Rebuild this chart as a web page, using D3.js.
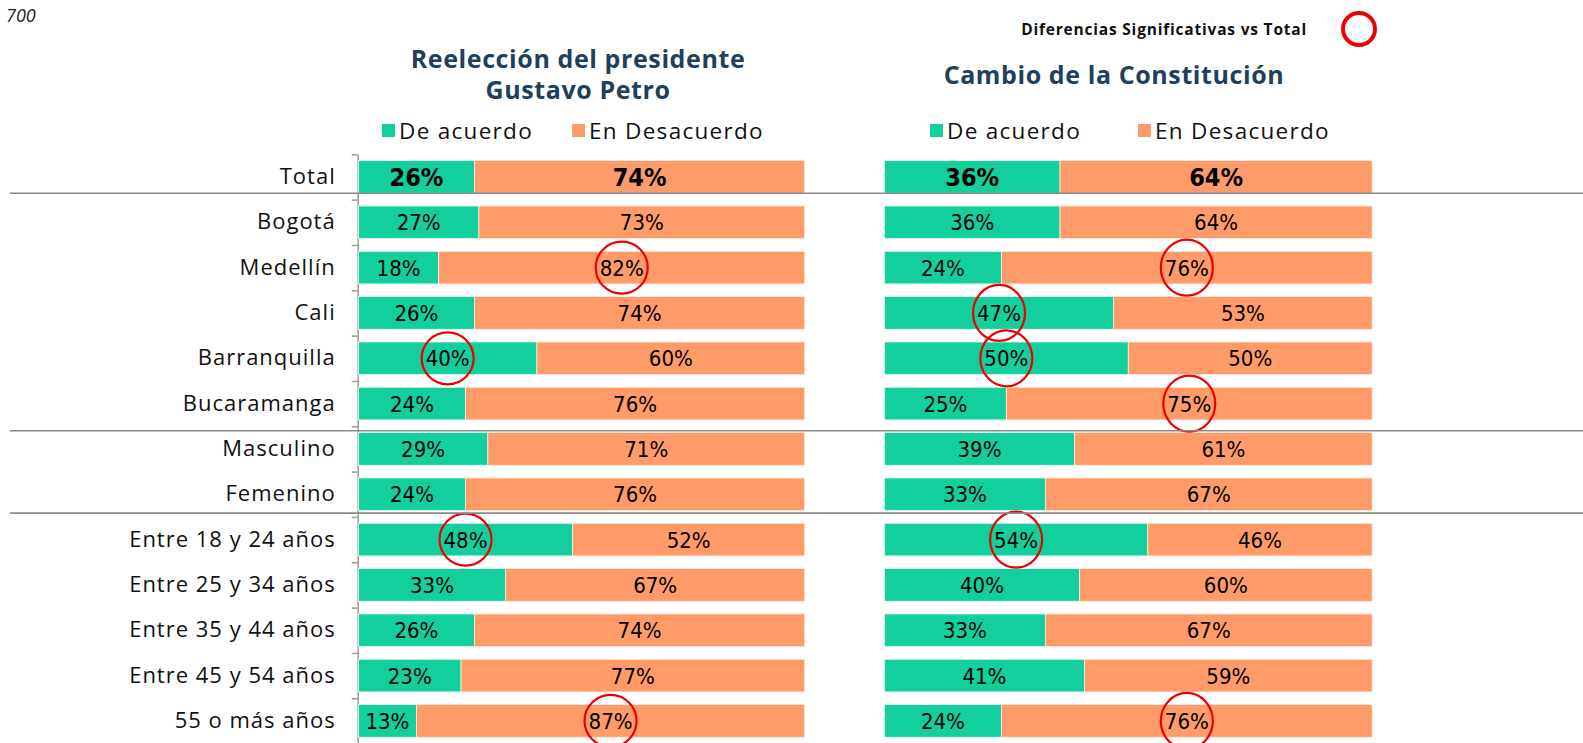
<!DOCTYPE html>
<html>
<head>
<meta charset="utf-8">
<script src="https://cdn.jsdelivr.net/npm/d3@7"></script>
<style>
  html, body { margin: 0; padding: 0; background: #ffffff; }
</style>
</head>
<body>
<script>
/**
 * Reelección / Cambio de la Constitución - barras apiladas 100%
 */

// Dimensions
const W = 1583;
const H = 743;

// Data
const CATS = ['Total', 'Bogotá', 'Medellín', 'Cali', 'Barranquilla', 'Bucaramanga',
  'Masculino', 'Femenino', 'Entre 18 y 24 años', 'Entre 25 y 34 años',
  'Entre 35 y 44 años', 'Entre 45 y 54 años', '55 o más años'];

const REELECCION_ACUERDO    = [26, 27, 18, 26, 40, 24, 29, 24, 48, 33, 26, 23, 13];
const REELECCION_DESACUERDO = [74, 73, 82, 74, 60, 76, 71, 76, 52, 67, 74, 77, 87];
const CAMBIO_ACUERDO        = [36, 36, 24, 47, 50, 25, 39, 33, 54, 40, 33, 41, 24];
const CAMBIO_DESACUERDO     = [64, 64, 76, 53, 50, 75, 61, 67, 46, 60, 67, 59, 76];

// significant differences vs total: [category, serie]
const SIG_REELECCION = [['Medellín', 'des'], ['Barranquilla', 'ac'], ['Entre 18 y 24 años', 'ac'], ['55 o más años', 'des']];
const SIG_CAMBIO     = [['Medellín', 'des'], ['Cali', 'ac'], ['Barranquilla', 'ac'], ['Bucaramanga', 'des'],
  ['Entre 18 y 24 años', 'ac'], ['55 o más años', 'des']];

const SERIES = ['De acuerdo', 'En Desacuerdo'];
const SEPARATORS = ['Total', 'Bucaramanga', 'Femenino'];

// Colors
const GREEN  = '#12CF9D';
const ORANGE = '#FF9B68';
const TITLE  = '#213F5B';
const RED    = '#EE0000';
const GRID   = '#8a8a8a';

// Fonts
const FONT_LABEL = "'Open Sans', 'DejaVu Sans', sans-serif";
const FONT_VALUE = "'Liberation Sans Narrow', 'DejaVu Sans Condensed', sans-serif";


// SCALES
const y = d3.scaleBand()
  .domain(CATS)
  .range([154.3, 743.6])
  .paddingInner(0.28)
  .paddingOuter(0.14);

const yEdge = d3.scaleLinear()
  .domain([0, CATS.length])
  .range(y.range());

const panels = [
  { title: ['Reelección del presidente', 'Gustavo Petro'], titleX: 578, titleY: 59,
    acuerdo: REELECCION_ACUERDO, desacuerdo: REELECCION_DESACUERDO, sig: SIG_REELECCION,
    x: d3.scaleLinear().domain([0, 100]).range([358.4, 804.7]),
    legendX: [382, 572], ring: [26, 26] },
  { title: ['Cambio de la Constitución'], titleX: 1114, titleY: 75,
    acuerdo: CAMBIO_ACUERDO, desacuerdo: CAMBIO_DESACUERDO, sig: SIG_CAMBIO,
    x: d3.scaleLinear().domain([0, 100]).range([884.4, 1372.2]),
    legendX: [930, 1138], ring: [26, 28] }
];


// SVG
const svg = d3.select('body').append('svg')
  .attr('width', W)
  .attr('height', H)
  .attr('text-rendering', 'optimizeLegibility');

svg.append('rect')
  .attr('width', W)
  .attr('height', H)
  .attr('fill', '#ffffff');

// slide number
svg.append('text')
  .attr('x', 6)
  .attr('y', 22)
  .attr('font-family', FONT_LABEL)
  .attr('font-style', 'italic')
  .attr('font-size', '18px')
  .attr('fill', '#222')
  .text('700');

// significance key
svg.append('text')
  .attr('x', 1307)
  .attr('y', 35)
  .attr('text-anchor', 'end')
  .attr('font-family', FONT_LABEL)
  .attr('font-weight', 700)
  .attr('font-size', '15.5px')
  .attr('letter-spacing', '0.8px')
  .attr('fill', '#111')
  .text('Diferencias Significativas vs Total');

svg.append('circle')
  .attr('cx', 1359)
  .attr('cy', 29)
  .attr('r', 16)
  .attr('fill', 'none')
  .attr('stroke', RED)
  .attr('stroke-width', 4);


// Y axis (only on the first panel)
const axisG = svg.append('g')
  .attr('transform', `translate(${357.7},0)`);

axisG.append('g')
  .call(d3.axisLeft(yEdge).tickValues(d3.range(CATS.length + 1)).tickSize(6).tickSizeOuter(0).tickFormat(''))
  .call(g => g.selectAll('line').attr('stroke', '#9a9a9a').attr('stroke-width', 1.5))
  .call(g => g.select('.domain').attr('stroke', '#9a9a9a').attr('stroke-width', 1.5));

axisG.append('g')
  .call(d3.axisLeft(y).tickSize(0).tickPadding(22))
  .call(g => g.select('.domain').remove())
  .call(g => g.selectAll('text')
    .attr('font-family', FONT_LABEL)
    .attr('font-size', '22px')
    .attr('letter-spacing', '1px')
    .attr('fill', '#111'));


// Panels
panels.forEach(p => {
  const x = p.x;

  // title
  const t = svg.append('text')
    .attr('x', p.titleX)
    .attr('y', p.titleY)
    .attr('text-anchor', 'middle')
    .attr('font-family', FONT_LABEL)
    .attr('font-weight', 700)
    .attr('font-size', '25px')
    .attr('letter-spacing', '0.6px')
    .attr('fill', TITLE);
  p.title.forEach((line, i) => {
    t.append('tspan')
      .attr('x', p.titleX)
      .attr('dy', i === 0 ? '0.35em' : 31)
      .text(line);
  });

  // legend
  SERIES.forEach((s, i) => {
    const lg = svg.append('g').attr('transform', `translate(${p.legendX[i]},${124})`);
    lg.append('rect')
      .attr('width', 13)
      .attr('height', 13)
      .attr('fill', i === 0 ? GREEN : ORANGE);
    lg.append('text')
      .attr('x', 17)
      .attr('y', 7)
      .attr('dy', '0.35em')
      .attr('font-family', FONT_LABEL)
      .attr('font-size', '22.5px')
      .attr('letter-spacing', '1.3px')
      .attr('fill', '#111')
      .text(s);
  });

  // bars
  const rows = CATS.map((c, i) => ({ cat: c, ac: p.acuerdo[i], des: p.desacuerdo[i] }));
  const g = svg.append('g');

  const row = g.selectAll('g.row')
    .data(rows)
    .join('g')
    .attr('class', 'row')
    .attr('transform', d => `translate(0,${y(d.cat)})`);

  row.append('rect')
    .attr('x', x(0))
    .attr('width', d => x(d.ac) - x(0))
    .attr('height', y.bandwidth())
    .attr('fill', GREEN)
    .attr('stroke', '#e9fbf5')
    .attr('stroke-width', 0.8);

  row.append('rect')
    .attr('x', d => x(d.ac))
    .attr('width', d => x(d.ac + d.des) - x(d.ac))
    .attr('height', y.bandwidth())
    .attr('fill', ORANGE)
    .attr('stroke', '#ffece2')
    .attr('stroke-width', 0.8);

  const isTotal = d => d.cat === 'Total';

  row.append('text')
    .attr('x', d => (x(0) + x(d.ac)) / 2)
    .attr('y', y.bandwidth() / 2)
    .attr('dy', '0.36em')
    .attr('text-anchor', 'middle')
    .attr('font-family', FONT_VALUE)
    .attr('font-weight', d => isTotal(d) ? 700 : 400)
    .attr('font-size', d => isTotal(d) ? '25px' : '22px')
    .attr('fill', '#000')
    .text(d => d.ac + '%');

  row.append('text')
    .attr('x', d => (x(d.ac) + x(d.ac + d.des)) / 2)
    .attr('y', y.bandwidth() / 2)
    .attr('dy', '0.36em')
    .attr('text-anchor', 'middle')
    .attr('font-family', FONT_VALUE)
    .attr('font-weight', d => isTotal(d) ? 700 : 400)
    .attr('font-size', d => isTotal(d) ? '25px' : '22px')
    .attr('fill', '#000')
    .text(d => d.des + '%');

  // significance rings
  p.sig.forEach(([cat, s]) => {
    const d = rows.find(r => r.cat === cat);
    const rx = s === 'ac' ? (x(0) + x(d.ac)) / 2 : (x(d.ac) + x(d.ac + d.des)) / 2;
    svg.append('ellipse')
      .attr('cx', rx)
      .attr('cy', y(cat) + y.bandwidth() / 2)
      .attr('rx', p.ring[0])
      .attr('ry', p.ring[1])
      .attr('fill', 'none')
      .attr('stroke', RED)
      .attr('stroke-width', 2.2);
  });
});


// Group separators
const sepNudge = [0, 0.85, 0.2];
SEPARATORS.forEach((c, i) => {
  const gap = y.step() - y.bandwidth();
  const yy = y(c) + y.bandwidth() + gap * sepNudge[i];
  svg.append('line')
    .attr('x1', 10)
    .attr('x2', W)
    .attr('y1', yy)
    .attr('y2', yy)
    .attr('stroke', GRID)
    .attr('stroke-width', 1.6);
});
</script>
</body>
</html>
